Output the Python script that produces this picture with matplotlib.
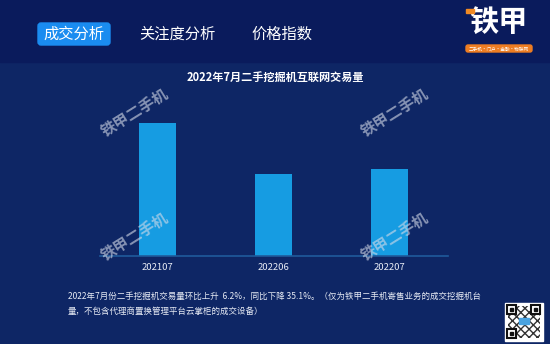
import matplotlib
matplotlib.use("Agg")
import matplotlib.pyplot as plt
from matplotlib.patches import Rectangle, FancyBboxPatch

plt.rcParams['font.family'] = ['Noto Sans CJK SC', 'DejaVu Sans']

# Données
mois = ['202107', '202206', '202207']
volumes = [1548, 946, 1005]
onglets = ['成交分析', '关注度分析', '价格指数']
titre = '2022年7月二手挖掘机互联网交易量'

hausse_mom = (volumes[2] / volumes[1] - 1) * 100
baisse_yoy = (1 - volumes[2] / volumes[0]) * 100

W, H = 550, 344
fig = plt.figure(figsize=(W / 100, H / 100), dpi=100)
fig.patch.set_facecolor('#0e2665')

# Calque de fond en coordonnées pixels
bg = fig.add_axes([0, 0, 1, 1])
bg.set_xlim(0, W)
bg.set_ylim(H, 0)
bg.axis('off')

# Bandeau supérieur
bg.add_patch(Rectangle((0, 0), W, 62, color='#0a1b5c', zorder=0))

# Onglets
bg.add_patch(FancyBboxPatch((38, 23), 72, 22, boxstyle='round,pad=0,rounding_size=3',
                            color='#1a8cf0', zorder=1))
pos_onglets = [74, 177, 282]
for x, nom in zip(pos_onglets, onglets):
    bg.text(x, 34.5, nom, color='white', fontsize=11, ha='center', va='center', zorder=2)

# Logo
bg.text(499, 22, '铁甲', color='white', fontsize=21, fontweight='bold',
        ha='center', va='center')
bg.add_patch(Rectangle((466, 9), 8, 4, color='#f08a24', zorder=3))
bg.add_patch(FancyBboxPatch((466, 45), 66, 7, boxstyle='round,pad=0,rounding_size=2',
                            color='#ee7d22'))
bg.text(499, 48.7, '二手机·门户·金融·物联网', color='white', fontsize=3.3,
        ha='center', va='center')

# Titre
bg.text(275, 77, titre, color='white', fontsize=8, fontweight='bold',
        ha='center', va='center')

# Texte explicatif
ligne1 = ('2022年7月份二手挖掘机交易量环比上升  %.1f%%，同比下降 %.1f%%。'
          '（仅为铁甲二手机寄售业务的成交挖掘机台' % (hausse_mom, baisse_yoy))
ligne2 = '量，不包含代理商置换管理平台云掌柜的成交设备）'
bg.text(68, 296, ligne1, color='#e8ecf5', fontsize=6.1, ha='left', va='center')
bg.text(68, 311, ligne2, color='#e8ecf5', fontsize=6.1, ha='left', va='center')

# QR code (décoratif)
bg.add_patch(Rectangle((505, 303), 38, 38, color='white', zorder=1))
bg.add_patch(Rectangle((508, 306), 32, 32, facecolor='white', edgecolor='#333333',
                       hatch='xxxx', linewidth=0, zorder=2))
for qx, qy in [(507, 305), (531, 305), (507, 329)]:
    bg.add_patch(Rectangle((qx, qy), 9, 9, facecolor='white', edgecolor='#111111',
                           linewidth=1.5, zorder=3))
    bg.add_patch(Rectangle((qx + 3, qy + 3), 3, 3, color='#111111', zorder=4))
bg.add_patch(Rectangle((519, 318), 10, 6, color='#4aa3e0', zorder=5))

# Graphique en barres
ax = fig.add_axes([99.5 / W, 1 - 255.7 / H, 348 / W, 0.45])
ax.set_facecolor('none')
x = range(len(mois))
ax.bar(x, volumes, width=0.32, color='#169ce2', zorder=2)
ax.set_xlim(-0.5, len(mois) - 0.5)
ax.set_ylim(0, 1800)
ax.set_xticks(list(x))
ax.set_xticklabels(mois, color='#e8ecf5', fontsize=6.8)
ax.tick_params(axis='x', length=0, pad=5)
ax.set_yticks([])
for s in ['top', 'left', 'right']:
    ax.spines[s].set_visible(False)
ax.spines['bottom'].set_color('#1f5a9c')
ax.spines['bottom'].set_linewidth(1.2)

# Filigranes (calque au-dessus des barres)
wm = fig.add_axes([0, 0, 1, 1])
wm.set_xlim(0, W)
wm.set_ylim(H, 0)
wm.axis('off')
for wx, wy in [(135, 112), (395, 112), (135, 236), (395, 236)]:
    wm.text(wx, wy, '铁甲二手机', color='#d5dbe8', alpha=0.6, fontsize=11,
            fontweight='bold', rotation=32, ha='center', va='center')

fig.savefig('out.png', dpi=100, facecolor=fig.get_facecolor())
